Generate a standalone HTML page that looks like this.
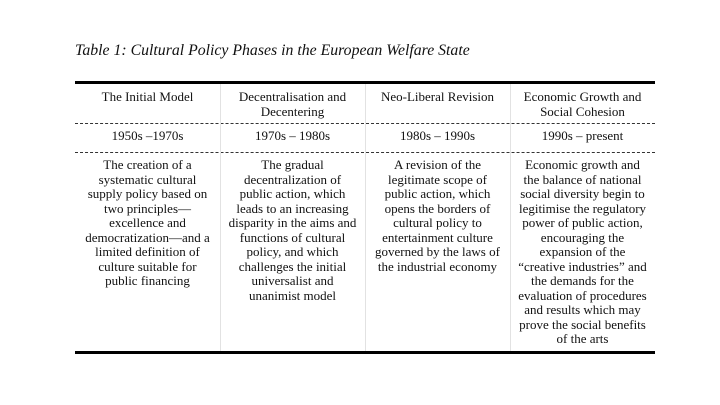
<!DOCTYPE html>
<html><head><style>
body{margin:0;width:720px;height:405px;background:#fff;position:relative;font-family:"Liberation Serif",serif;color:#111;overflow:hidden}
.t{position:absolute;left:75px;top:42px;font-style:italic;font-size:15.8px}
.h{position:absolute;height:3px;background:#000;left:75px;width:580px}
.d{position:absolute;left:75px;width:580px;border-top:1px dashed #333}
.v{position:absolute;top:84px;height:267px;width:1px;background:#e2e2e2}
.c{position:absolute;width:145px;text-align:center;font-size:13px;line-height:14.5px}
</style></head><body>
<div class="t">Table 1: Cultural Policy Phases in the European Welfare State</div>
<div class="h" style="top:81px"></div>
<div class="h" style="top:351px"></div>
<div class="d" style="top:123px"></div>
<div class="d" style="top:152px"></div>
<div class="v" style="left:220px"></div>
<div class="v" style="left:365px"></div>
<div class="v" style="left:510px"></div>

<div class="c" style="left:75px;top:90px">The Initial Model</div>
<div class="c" style="left:220px;top:90px">Decentralisation and<br>Decentering</div>
<div class="c" style="left:365px;top:90px">Neo-Liberal Revision</div>
<div class="c" style="left:510px;top:90px">Economic Growth and<br>Social Cohesion</div>

<div class="c" style="left:75px;top:129px">1950s –1970s</div>
<div class="c" style="left:220px;top:129px">1970s – 1980s</div>
<div class="c" style="left:365px;top:129px">1980s – 1990s</div>
<div class="c" style="left:510px;top:129px">1990s – present</div>

<div class="c" style="left:75px;top:158px">The creation of a<br>systematic cultural<br>supply policy based on<br>two principles—<br>excellence and<br>democratization—and a<br>limited definition of<br>culture suitable for<br>public financing</div>
<div class="c" style="left:220px;top:158px">The gradual<br>decentralization of<br>public action, which<br>leads to an increasing<br>disparity in the aims and<br>functions of cultural<br>policy, and which<br>challenges the initial<br>universalist and<br>unanimist model</div>
<div class="c" style="left:365px;top:158px">A revision of the<br>legitimate scope of<br>public action, which<br>opens the borders of<br>cultural policy to<br>entertainment culture<br>governed by the laws of<br>the industrial economy</div>
<div class="c" style="left:510px;top:158px">Economic growth and<br>the balance of national<br>social diversity begin to<br>legitimise the regulatory<br>power of public action,<br>encouraging the<br>expansion of the<br>“creative industries” and<br>the demands for the<br>evaluation of procedures<br>and results which may<br>prove the social benefits<br>of the arts</div>
</body></html>
